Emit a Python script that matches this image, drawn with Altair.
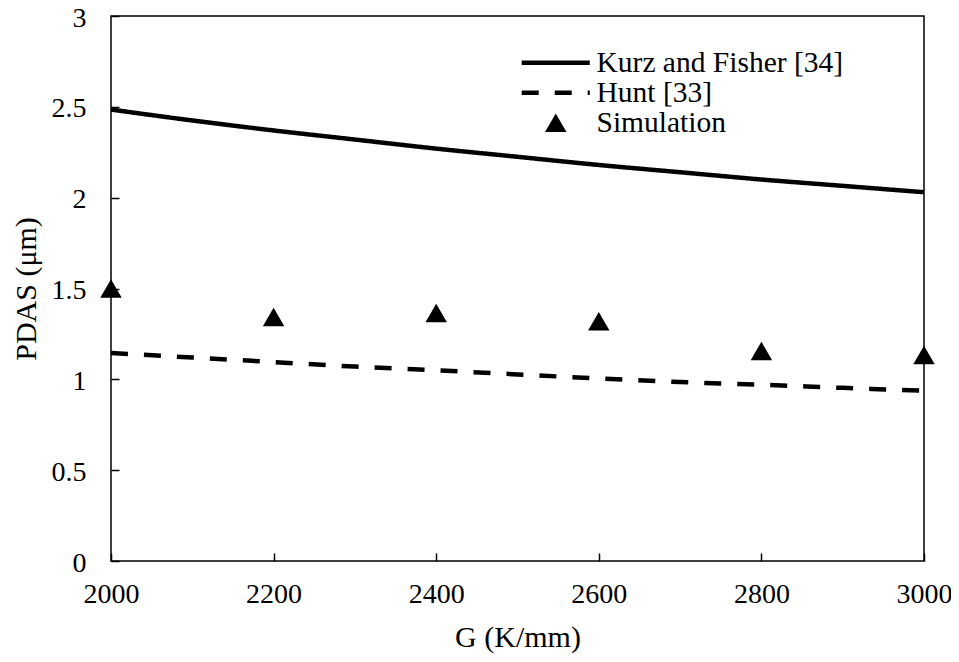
import altair as alt
import pandas as pd

# ---- data ----
g_line = [2000, 2100, 2200, 2300, 2400, 2500, 2600, 2700, 2800, 2900, 3000]
kurz = [2.485, 2.425, 2.37, 2.32, 2.27, 2.225, 2.18, 2.14, 2.10, 2.065, 2.03]
hunt = [1.145, 1.12, 1.095, 1.07, 1.05, 1.027, 1.005, 0.985, 0.97, 0.953, 0.937]
g_sim = [2000, 2200, 2400, 2600, 2800, 3000]
sim = [1.50, 1.343, 1.365, 1.32, 1.156, 1.134]

series_lines = ["Kurz and Fisher [34]", "Hunt [33]"]
series_pts = ["Simulation"]
x_ticks = [2000, 2200, 2400, 2600, 2800, 3000]
y_ticks = [0, 0.5, 1, 1.5, 2, 2.5, 3]

FONT = "Liberation Serif"
W, H = 813, 545
TICK_FS, TITLE_FS, LEG_FS = 28, 30, 29.5

lines_df = pd.DataFrame(
    {"G": g_line * 2,
     "PDAS": kurz + hunt,
     "series": [series_lines[0]] * len(g_line) + [series_lines[1]] * len(g_line)}
)
pts_df = pd.DataFrame({"G": g_sim, "PDAS": sim, "series": series_pts * len(g_sim)})

xscale = alt.Scale(domain=[2000, 3000], nice=False, zero=False)
yscale = alt.Scale(domain=[0, 3], nice=False, zero=False)

lines = alt.Chart(lines_df).mark_line(color="black", strokeWidth=4.5, clip=True,
                                      interpolate="monotone").encode(
    x=alt.X("G:Q", scale=xscale,
            axis=alt.Axis(values=x_ticks, format="d", ticks=False, tickSize=0, domain=False,
                          grid=False, labelFlush=False, labelFont=FONT, labelFontSize=TICK_FS,
                          labelColor="black", labelPadding=19, title="G (K/mm)",
                          titleFont=FONT, titleFontSize=TITLE_FS, titleFontWeight="normal",
                          titleColor="black", titlePadding=14)),
    y=alt.Y("PDAS:Q", scale=yscale,
            axis=alt.Axis(values=y_ticks, format="~g", ticks=False, tickSize=0, domain=False,
                          grid=False, labelFlush=False, labelFont=FONT, labelFontSize=TICK_FS,
                          labelColor="black", labelPadding=25, labelOffset=2,
                          title="PDAS (μm)", titleFont=FONT, titleFontSize=TITLE_FS,
                          titleFontWeight="normal", titleColor="black", titlePadding=10)),
    strokeDash=alt.StrokeDash(
        "series:N",
        scale=alt.Scale(domain=series_lines, range=[[1, 0], [17, 16]]),
        legend=alt.Legend(title=None, orient="none", legendX=430, legendY=32,
                          symbolType="M-3,0H3", symbolSize=515, symbolStrokeWidth=4.5,
                          symbolStrokeColor="black", symbolFillColor="transparent",
                          labelFont=FONT, labelFontSize=LEG_FS, labelColor="black",
                          labelOffset=26, labelLimit=500, padding=0, rowPadding=-1.5),
    ),
    detail="series:N",
)

points = alt.Chart(pts_df).mark_point(filled=True, color="black", size=460, opacity=1).encode(
    x=alt.X("G:Q", scale=xscale,
            axis=alt.Axis(orient="top", offset=-H, values=x_ticks, labels=False, domain=False,
                          grid=False, ticks=True, tickSize=8, tickWidth=1.5, tickColor="black",
                          title=None)),
    y=alt.Y("PDAS:Q", scale=yscale,
            axis=alt.Axis(orient="right", offset=-W, values=y_ticks, labels=False, domain=False,
                          grid=False, ticks=True, tickSize=8, tickWidth=1.5, tickColor="black",
                          title=None)),
    shape=alt.Shape(
        "series:N",
        scale=alt.Scale(domain=series_pts, range=["triangle-up"]),
        legend=alt.Legend(title=None, orient="none", legendX=430, legendY=92,
                          symbolSize=460, symbolFillColor="black", symbolStrokeColor="black",
                          symbolStrokeWidth=0, labelFont=FONT, labelFontSize=LEG_FS,
                          labelColor="black", labelOffset=26, labelLimit=500, padding=0),
    ),
)

chart = (
    alt.layer(lines, points)
    .resolve_scale(x="shared", y="shared")
    .resolve_axis(x="independent", y="independent")
    .resolve_legend(strokeDash="independent", shape="independent")
    .properties(
        width=W, height=H,
        autosize=alt.AutoSizeParams(type="none"),
        padding={"left": 103, "top": 8, "right": 27, "bottom": 100},
        background="white",
    )
    .configure_view(stroke="black", strokeWidth=1.5)
)

chart.save("out.html", embed_options={"renderer": "svg", "actions": False})
